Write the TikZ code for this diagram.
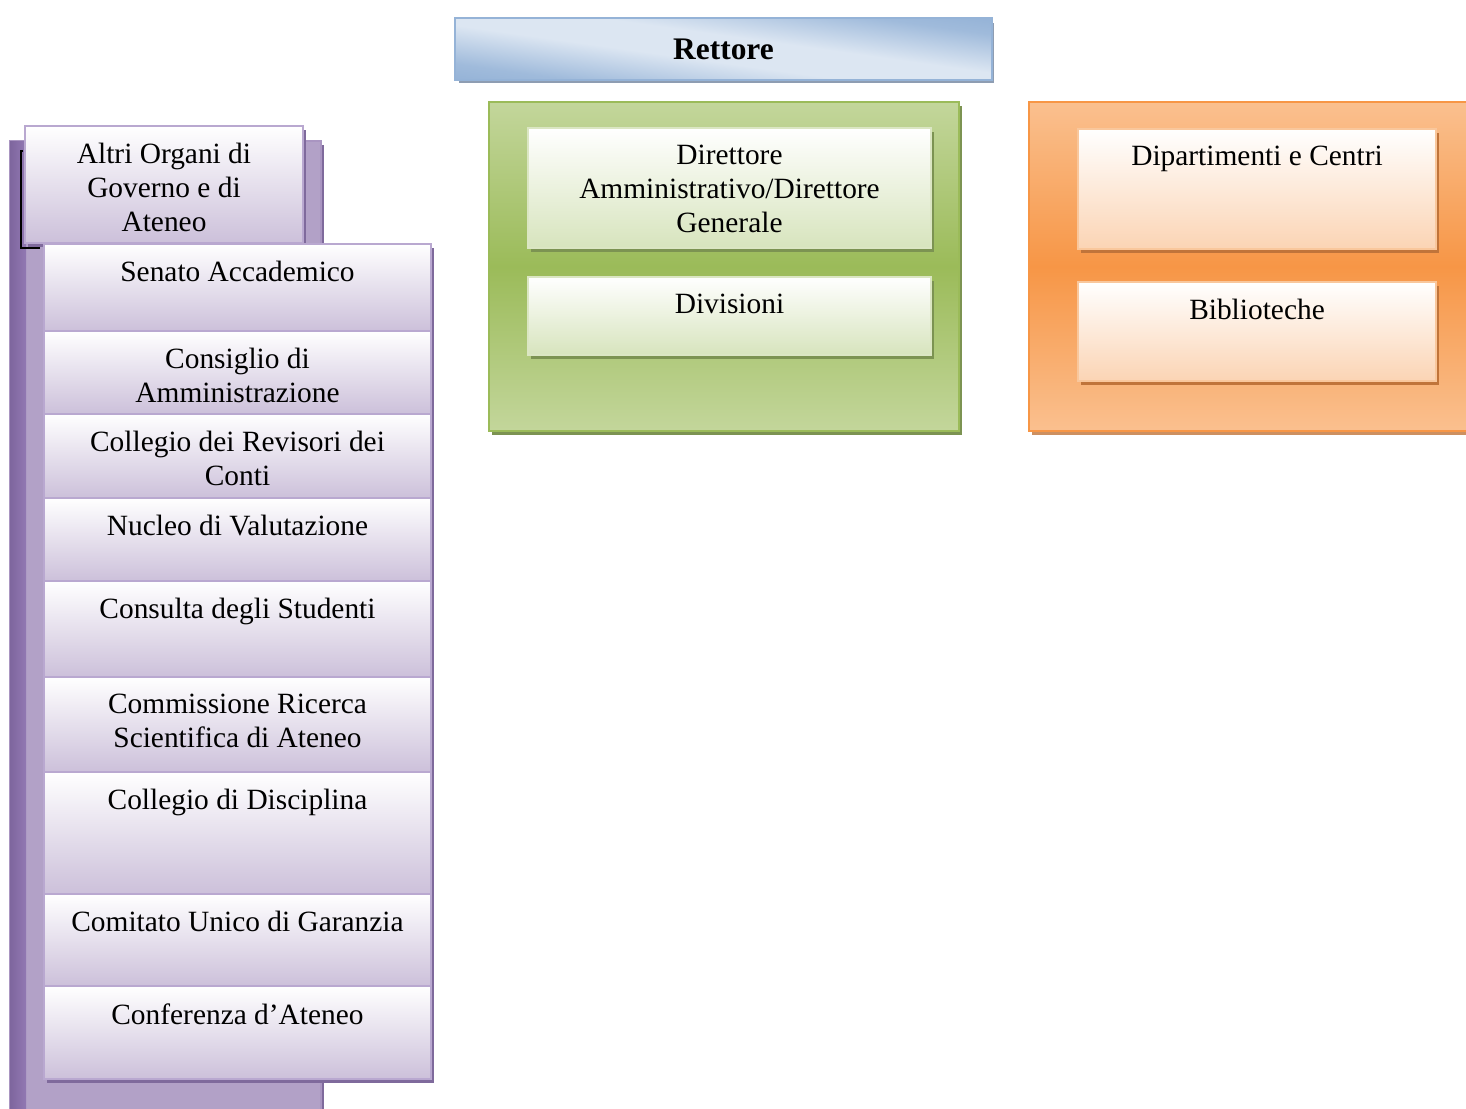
\documentclass[tikz,border=0pt]{standalone}
\usepackage{fontspec}
\setmainfont{Liberation Serif}
\definecolor{purpleOuter}{HTML}{B2A1C7}
\definecolor{purpleDark}{HTML}{8C71AF}
\definecolor{purpleShadow}{HTML}{7F6A9C}
\definecolor{lavLow}{HTML}{CCC0DA}
\definecolor{lavEdge}{HTML}{B9A8D0}
\definecolor{greenLight}{HTML}{C3D69B}
\definecolor{greenMid}{HTML}{9BBB59}
\definecolor{greenShadow}{HTML}{7C9352}
\definecolor{greenLow}{HTML}{D7E4BD}
\definecolor{orangeLight}{HTML}{FAC08F}
\definecolor{orangeMid}{HTML}{F79646}
\definecolor{orangeShadow}{HTML}{C0743A}
\definecolor{orangeLow}{HTML}{FBD4B4}
\definecolor{orangeEdge}{HTML}{F9C79C}
\definecolor{blueEdge}{HTML}{95B3D7}
\definecolor{blueLight}{HTML}{DCE6F2}
\definecolor{blueShadow}{HTML}{8E9DB2}
% diagonal sheen of the title bar
\pgfdeclarehorizontalshading{rettoresheen}{100bp}{color(0bp)=(blueEdge); color(25bp)=(blueEdge);
  color(31bp)=(blueEdge!85!blueLight); color(45bp)=(blueLight); color(55bp)=(blueLight);
  color(69bp)=(blueEdge!85!blueLight); color(75bp)=(blueEdge); color(100bp)=(blueEdge)}
\begin{document}
\begin{tikzpicture}[x=0.5pt,y=-0.5pt,
  panel/.style={anchor=north west, inner sep=0pt, line width=1pt},
  shadowed/.style={preaction={fill=#1, transform canvas={shift={(1.5pt,-2pt)}}}},
  pitem/.style={panel, shadowed=purpleShadow, draw=lavEdge, top color=white, bottom color=lavLow,
                minimum width=193.5pt},
  gitem/.style={panel, shadowed=greenShadow, draw=greenLight!60!white, top color=white, bottom color=greenLow,
                minimum width=201.5pt},
  oitem/.style={panel, shadowed=orangeShadow, draw=orangeEdge, top color=white, bottom color=orangeLow,
                minimum width=179pt},
  lbl/.style={anchor=north, inner sep=0pt, align=center, font=\fontsize{14.7}{17}\selectfont},
]
\clip (0,0) rectangle (1466,1108);
\useasboundingbox (0,0) rectangle (1466,1108);

% Rettore
\node[panel, shadowed=blueShadow, fill=blueLight, minimum width=267.5pt, minimum height=30pt]
  (rettore) at (455,18) {};
\begin{scope}
  \clip (rettore.north west) rectangle (rettore.south east);
  \begin{scope}[transform canvas={shift={(rettore.center)}, rotate=82}]
    \shade[shading=rettoresheen] (-34pt,-140pt) rectangle (34pt,140pt);
  \end{scope}
\end{scope}
\draw[blueEdge, line width=1pt] (rettore.north west) rectangle (rettore.south east);
\node[font=\fontsize{15.7}{18}\selectfont\bfseries, inner sep=0pt] (rettoreT) at (rettore.center) {Rettore};

% Left column: governing bodies
\node[panel, shadowed=purpleShadow, draw=purpleOuter!75!purpleDark, fill=purpleOuter, minimum width=155.5pt, minimum height=490pt]
  (organi) at (9,140) {};
\shade[left color=purpleDark!90!black, right color=purpleDark!85!purpleOuter]
  ([xshift=0.5pt,yshift=-0.5pt]organi.north west) rectangle ([xshift=8.5pt,yshift=1pt]organi.south west);
\node[panel, shadowed=purpleShadow, draw=lavEdge, top color=white, bottom color=lavLow,
      minimum width=139pt, minimum height=58.5pt] (altri) at (24,125) {};
\node[lbl] (altriT) at ([yshift=-9pt]altri.north) {Altri Organi di\\Governo e di\\Ateneo};
\draw[black, line width=0.6pt] ([xshift=-0.5pt,yshift=-13pt]altri.north west) -- ++(-1pt,0)
  |- ([xshift=8pt,yshift=-2pt]altri.south west);

\node[pitem, minimum height=43.5pt] (senato) at (43,243) {};
\node[lbl] (senatoT) at ([yshift=-9pt]senato.north) {Senato Accademico};
\node[pitem, minimum height=41.5pt] (consiglio) at (43,330) {};
\node[lbl] (consiglioT) at ([yshift=-9pt]consiglio.north) {Consiglio di\\Amministrazione};
\node[pitem, minimum height=42pt] (revisori) at (43,413) {};
\node[lbl] (revisoriT) at ([yshift=-9pt]revisori.north) {Collegio dei Revisori dei\\Conti};
\node[pitem, minimum height=41.5pt] (nucleo) at (43,497) {};
\node[lbl] (nucleoT) at ([yshift=-9pt]nucleo.north) {Nucleo di Valutazione};
\node[pitem, minimum height=48pt] (consulta) at (43,580) {};
\node[lbl] (consultaT) at ([yshift=-9pt]consulta.north) {Consulta degli Studenti};
\node[pitem, minimum height=47.5pt] (ricerca) at (43,676) {};
\node[lbl] (ricercaT) at ([yshift=-9pt]ricerca.north) {Commissione Ricerca\\Scientifica di Ateneo};
\node[pitem, minimum height=61pt] (disciplina) at (43,771) {};
\node[lbl] (disciplinaT) at ([yshift=-9pt]disciplina.north) {Collegio di Disciplina};
\node[pitem, minimum height=46pt] (garanzia) at (43,893) {};
\node[lbl] (garanziaT) at ([yshift=-9pt]garanzia.north) {Comitato Unico di Garanzia};
\node[pitem, minimum height=46.5pt] (conferenza) at (43,985) {};
\node[lbl] (conferenzaT) at ([yshift=-9pt]conferenza.north) {Conferenza d’Ateneo};

% Middle column: administration
\node[panel, shadowed=greenShadow, draw=greenMid, top color=greenLight, bottom color=greenLight,
      middle color=greenMid, minimum width=235pt, minimum height=164.5pt] (ammin) at (488,101) {};
\node[gitem, minimum height=60pt] (direttore) at (527,127) {};
\node[lbl] (direttoreT) at ([yshift=-9pt]direttore.north) {Direttore\\Amministrativo/Direttore\\Generale};
\node[gitem, minimum height=39pt] (divisioni) at (527,276) {};
\node[lbl] (divisioniT) at ([yshift=-9pt]divisioni.north) {Divisioni};

% Right column: structures
\node[panel, shadowed=orangeShadow!80!white, draw=orangeMid, top color=orangeLight, bottom color=orangeLight,
      middle color=orangeMid, minimum width=230pt, minimum height=164.5pt] (strutture) at (1028,101) {};
\node[oitem, minimum height=60pt] (dipartimenti) at (1077,128) {};
\node[lbl] (dipartimentiT) at ([yshift=-9pt]dipartimenti.north) {Dipartimenti e Centri};
\node[oitem, minimum height=49.5pt] (biblioteche) at (1077,281) {};
\node[lbl] (bibliotecheT) at ([yshift=-9pt]biblioteche.north) {Biblioteche};
\end{tikzpicture}
\end{document}
